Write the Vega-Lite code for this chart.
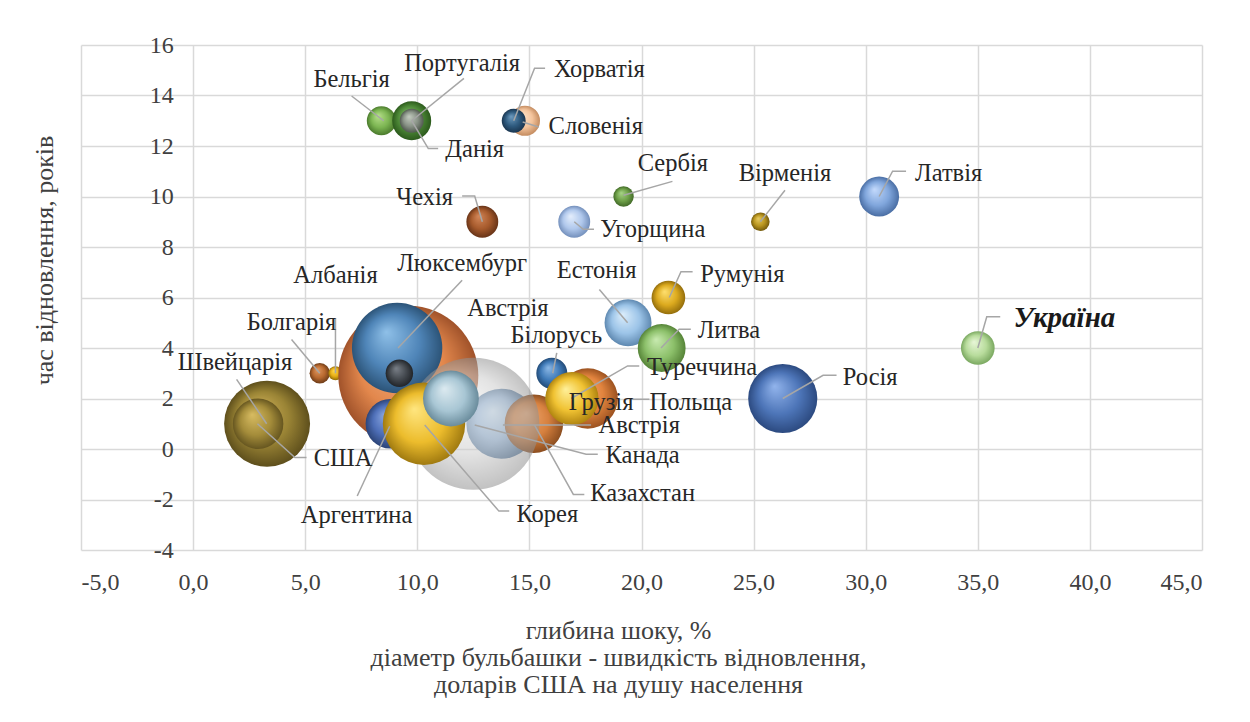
{
  "$schema": "https://vega.github.io/schema/vega-lite/v6.json",
  "width": 1121,
  "height": 505,
  "autosize": {"type": "none"},
  "padding": {"left": 81, "top": 45, "right": 48, "bottom": 172},
  "background": "white",
  "config": {
    "locale": {"number": {"decimal": ",", "thousands": " ", "grouping": [3], "currency": ["", ""], "minus": "-"}},
    "font": "Liberation Serif",
    "view": {"stroke": null},
    "axis": {
      "labelFont": "Liberation Serif", "titleFont": "Liberation Serif",
      "labelFontSize": 24, "titleFontSize": 26, "labelColor": "#404040", "titleColor": "#404040",
      "titleFontWeight": "normal", "gridColor": "#d9d9d9", "gridWidth": 1.5,
      "domain": false, "ticks": false, "tickSize": 0
    }
  },
  "datasets": {
    "bubbles": [
      {"n": 1, "country": "Швейцарія", "x": 3.3, "y": 1, "v": 970},
      {"n": 2, "country": "США", "x": 2.9, "y": 1, "v": 570},
      {"n": 3, "country": "Болгарія", "x": 5.65, "y": 3, "v": 230},
      {"n": 4, "country": "Албанія", "x": 6.35, "y": 3, "v": 160},
      {"n": 5, "country": "Австрія", "x": 9.6, "y": 2.9, "v": 1580},
      {"n": 6, "country": "Люксембург", "x": 9.1, "y": 4, "v": 1020},
      {"n": 7, "country": null, "x": 9.2, "y": 3, "v": 310},
      {"n": 8, "country": "Аргентина", "x": 8.8, "y": 1, "v": 560},
      {"n": 9, "country": "Австрія", "x": 13.75, "y": 1, "v": 790},
      {"n": 10, "country": "Казахстан", "x": 15.2, "y": 1, "v": 660},
      {"n": 11, "country": "Канада", "x": 12.5, "y": 1, "v": 1490},
      {"n": 12, "country": "Корея", "x": 10.3, "y": 1, "v": 930},
      {"n": 13, "country": null, "x": 11.5, "y": 2, "v": 630},
      {"n": 14, "country": "Білорусь", "x": 16.0, "y": 3, "v": 350},
      {"n": 15, "country": "Польща", "x": 17.6, "y": 2, "v": 680},
      {"n": 16, "country": "Грузія", "x": 16.6, "y": 2, "v": 450},
      {"n": 17, "country": "Туреччина", "x": 16.9, "y": 2, "v": 600},
      {"n": 18, "country": "Естонія", "x": 19.4, "y": 5, "v": 530},
      {"n": 19, "country": "Румунія", "x": 21.2, "y": 6, "v": 380},
      {"n": 20, "country": "Литва", "x": 20.9, "y": 4, "v": 540},
      {"n": 21, "country": "Росія", "x": 26.3, "y": 2, "v": 780},
      {"n": 22, "country": "Вірменія", "x": 25.3, "y": 9, "v": 210},
      {"n": 23, "country": "Латвія", "x": 30.6, "y": 10, "v": 450},
      {"n": 24, "country": "Україна", "x": 35.0, "y": 4, "v": 380},
      {"n": 25, "country": "Бельгія", "x": 8.4, "y": 13, "v": 330},
      {"n": 26, "country": "Португалія", "x": 9.75, "y": 13, "v": 440},
      {"n": 27, "country": "Данія", "x": 9.75, "y": 13, "v": 270},
      {"n": 28, "country": "Словенія", "x": 14.8, "y": 13, "v": 340},
      {"n": 29, "country": "Хорватія", "x": 14.3, "y": 13, "v": 270},
      {"n": 30, "country": "Чехія", "x": 12.9, "y": 9, "v": 360},
      {"n": 31, "country": "Угорщина", "x": 17.0, "y": 9, "v": 360},
      {"n": 32, "country": "Сербія", "x": 19.2, "y": 10, "v": 230}
    ],
    "labels": [
      {"text": "Бельгія", "x": 7.07, "y": 14.6},
      {"text": "Португалія", "x": 12.0, "y": 15.26},
      {"text": "Хорватія", "x": 18.12, "y": 15.0},
      {"text": "Словенія", "x": 17.96, "y": 12.75},
      {"text": "Данія", "x": 12.56, "y": 11.83},
      {"text": "Чехія", "x": 10.33, "y": 9.95},
      {"text": "Сербія", "x": 21.4, "y": 11.3},
      {"text": "Вірменія", "x": 26.4, "y": 10.9},
      {"text": "Латвія", "x": 33.7, "y": 10.9},
      {"text": "Угорщина", "x": 20.5, "y": 8.66},
      {"text": "Люксембург", "x": 12.0, "y": 7.34},
      {"text": "Естонія", "x": 18.0, "y": 7.05},
      {"text": "Албанія", "x": 6.35, "y": 6.85},
      {"text": "Румунія", "x": 24.5, "y": 6.9},
      {"text": "Австрія", "x": 14.04, "y": 5.56},
      {"text": "Болгарія", "x": 4.39, "y": 5.0},
      {"text": "Білорусь", "x": 16.2, "y": 4.47},
      {"text": "Литва", "x": 23.9, "y": 4.67},
      {"text": "Україна", "x": 38.86, "y": 5.2},
      {"text": "Швейцарія", "x": 1.87, "y": 3.42},
      {"text": "Туреччина", "x": 22.7, "y": 3.22},
      {"text": "Росія", "x": 30.2, "y": 2.82},
      {"text": "Грузія", "x": 18.2, "y": 1.83},
      {"text": "Польща", "x": 22.2, "y": 1.83},
      {"text": "Австрія", "x": 19.9, "y": 0.91},
      {"text": "Канада", "x": 20.05, "y": -0.28},
      {"text": "США", "x": 6.69, "y": -0.41},
      {"text": "Казахстан", "x": 20.05, "y": -1.8},
      {"text": "Аргентина", "x": 7.29, "y": -2.65},
      {"text": "Корея", "x": 15.8, "y": -2.6}
    ],
    "leaders": [
      {"key": "Бельгія", "k": 1, "x": 8.5, "y": 13}, {"key": "Бельгія", "k": 2, "x": 7.07, "y": 13.98},
      {"key": "Португалія", "k": 1, "x": 9.75, "y": 13}, {"key": "Португалія", "k": 2, "x": 12.08, "y": 14.68},
      {"key": "Данія", "k": 1, "x": 9.75, "y": 13}, {"key": "Данія", "k": 2, "x": 10.49, "y": 11.9}, {"key": "Данія", "k": 3, "x": 10.93, "y": 11.9},
      {"key": "Хорватія", "k": 1, "x": 14.3, "y": 13}, {"key": "Хорватія", "k": 2, "x": 15.23, "y": 15.08}, {"key": "Хорватія", "k": 3, "x": 15.7, "y": 15.08},
      {"key": "Словенія", "k": 1, "x": 14.7, "y": 12.95}, {"key": "Словенія", "k": 2, "x": 15.42, "y": 12.75},
      {"key": "Чехія", "k": 1, "x": 12.9, "y": 9}, {"key": "Чехія", "k": 2, "x": 12.56, "y": 10.02}, {"key": "Чехія", "k": 3, "x": 12.0, "y": 10.02},
      {"key": "Сербія", "k": 1, "x": 19.2, "y": 10.05}, {"key": "Сербія", "k": 2, "x": 21.38, "y": 10.6},
      {"key": "Угорщина", "k": 1, "x": 17.0, "y": 9}, {"key": "Угорщина", "k": 2, "x": 17.4, "y": 8.7}, {"key": "Угорщина", "k": 3, "x": 17.88, "y": 8.7},
      {"key": "Вірменія", "k": 1, "x": 25.3, "y": 9}, {"key": "Вірменія", "k": 2, "x": 26.4, "y": 10.25},
      {"key": "Латвія", "k": 1, "x": 30.6, "y": 10}, {"key": "Латвія", "k": 2, "x": 31.2, "y": 11.0}, {"key": "Латвія", "k": 3, "x": 31.8, "y": 11.0},
      {"key": "Люксембург", "k": 1, "x": 9.14, "y": 4}, {"key": "Люксембург", "k": 2, "x": 12.0, "y": 6.68},
      {"key": "Естонія", "k": 1, "x": 19.38, "y": 5}, {"key": "Естонія", "k": 2, "x": 18.12, "y": 6.32},
      {"key": "Албанія", "k": 1, "x": 6.35, "y": 3}, {"key": "Албанія", "k": 2, "x": 6.35, "y": 5.18},
      {"key": "Румунія", "k": 1, "x": 21.24, "y": 6}, {"key": "Румунія", "k": 2, "x": 21.76, "y": 7.02}, {"key": "Румунія", "k": 3, "x": 22.28, "y": 7.02},
      {"key": "Болгарія", "k": 1, "x": 5.65, "y": 3}, {"key": "Болгарія", "k": 2, "x": 4.39, "y": 4.34},
      {"key": "Білорусь", "k": 1, "x": 16.04, "y": 3}, {"key": "Білорусь", "k": 2, "x": 16.22, "y": 3.81},
      {"key": "Литва", "k": 1, "x": 20.87, "y": 4}, {"key": "Литва", "k": 2, "x": 21.68, "y": 4.74}, {"key": "Литва", "k": 3, "x": 22.2, "y": 4.74},
      {"key": "Україна", "k": 1, "x": 35.0, "y": 4}, {"key": "Україна", "k": 2, "x": 35.4, "y": 5.24}, {"key": "Україна", "k": 3, "x": 36.0, "y": 5.24},
      {"key": "Швейцарія", "k": 1, "x": 3.28, "y": 1}, {"key": "Швейцарія", "k": 2, "x": 1.94, "y": 2.76},
      {"key": "Туреччина", "k": 1, "x": 16.86, "y": 2}, {"key": "Туреччина", "k": 2, "x": 19.38, "y": 3.29}, {"key": "Туреччина", "k": 3, "x": 19.9, "y": 3.29},
      {"key": "Росія", "k": 1, "x": 26.3, "y": 2}, {"key": "Росія", "k": 2, "x": 28.1, "y": 2.92}, {"key": "Росія", "k": 3, "x": 28.7, "y": 2.92},
      {"key": "Польща", "k": 1, "x": 19.55, "y": 1.97}, {"key": "Польща", "k": 2, "x": 20.35, "y": 1.97},
      {"key": "Австрія2", "k": 1, "x": 13.82, "y": 0.95}, {"key": "Австрія2", "k": 2, "x": 17.75, "y": 0.95},
      {"key": "Канада", "k": 1, "x": 12.56, "y": 0.95}, {"key": "Канада", "k": 2, "x": 17.53, "y": -0.21}, {"key": "Канада", "k": 3, "x": 18.05, "y": -0.21},
      {"key": "США", "k": 1, "x": 2.87, "y": 1}, {"key": "США", "k": 2, "x": 4.54, "y": -0.34}, {"key": "США", "k": 3, "x": 5.06, "y": -0.34},
      {"key": "Казахстан", "k": 1, "x": 15.23, "y": 0.95}, {"key": "Казахстан", "k": 2, "x": 16.96, "y": -1.8}, {"key": "Казахстан", "k": 3, "x": 17.45, "y": -1.8},
      {"key": "Аргентина", "k": 1, "x": 8.77, "y": 0.9}, {"key": "Аргентина", "k": 2, "x": 7.32, "y": -1.86},
      {"key": "Корея", "k": 1, "x": 10.33, "y": 0.95}, {"key": "Корея", "k": 2, "x": 13.64, "y": -2.46}, {"key": "Корея", "k": 3, "x": 14.1, "y": -2.46}
    ]
  },
  "encoding": {
    "x": {
      "field": "x", "type": "quantitative",
      "scale": {"domain": [-5, 45], "nice": false, "zero": false},
      "axis": {
        "values": [-5, 0, 5, 10, 15, 20, 25, 30, 35, 40, 45], "format": ".1f",
        "labelPadding": 32, "labelBaseline": "middle",
        "title": ["глибина шоку, %", "діаметр бульбашки - швидкість відновлення,", "доларів США на душу населення"],
        "titleX": 537, "titleY": 80, "titleBaseline": "middle", "titleAlign": "center", "titleLineHeight": 27
      }
    },
    "y": {
      "field": "y", "type": "quantitative",
      "scale": {"domain": [-4, 16], "nice": false, "zero": false},
      "axis": {
        "values": [-4, -2, 0, 2, 4, 6, 8, 10, 12, 14, 16], "format": "d",
        "offset": -112.3, "labelPadding": 20,
        "title": "час відновлення, років",
        "titleX": -149, "titleY": 215, "titleAngle": -90, "titleBaseline": "middle", "titleAlign": "center"
      }
    }
  },
  "layer": [
    {
      "data": {"name": "bubbles"},
      "mark": {"type": "circle", "opacity": 1, "stroke": null},
      "encoding": {
        "size": {"field": "v", "type": "quantitative", "legend": null,
          "scale": {"type": "pow", "exponent": 2, "domain": [0, 1600], "range": [0, 20106]}},
        "opacity": {"condition": {"test": "datum.country === 'Канада'", "value": 0.55}, "value": 1},
        "color": {"field": "n", "type": "ordinal", "legend": null,
          "scale": {"domain": [1,2,3,4,5,6,7,8,9,10,11,12,13,14,15,16,17,18,19,20,21,22,23,24,25,26,27,28,29,30,31,32],
            "range": [
              {"expr": "{gradient:'radial',x1:0.38,y1:0.32,r1:0,x2:0.5,y2:0.5,r2:0.5,stops:[{offset:0,color:'#d2b35a'},{offset:0.6,color:'#9a8435'},{offset:1,color:'#5e4f1c'}]}"},
              {"expr": "{gradient:'radial',x1:0.38,y1:0.32,r1:0,x2:0.5,y2:0.5,r2:0.5,stops:[{offset:0,color:'#d8bc62'},{offset:0.6,color:'#a48c3a'},{offset:1,color:'#665620'}]}"},
              {"expr": "{gradient:'radial',x1:0.38,y1:0.32,r1:0,x2:0.5,y2:0.5,r2:0.5,stops:[{offset:0,color:'#e09a64'},{offset:0.6,color:'#b8692f'},{offset:1,color:'#6e3c18'}]}"},
              {"expr": "{gradient:'radial',x1:0.38,y1:0.32,r1:0,x2:0.5,y2:0.5,r2:0.5,stops:[{offset:0,color:'#ffd84a'},{offset:0.6,color:'#e6ad14'},{offset:1,color:'#8f6a08'}]}"},
              {"expr": "{gradient:'radial',x1:0.38,y1:0.32,r1:0,x2:0.5,y2:0.5,r2:0.5,stops:[{offset:0,color:'#f4b48a'},{offset:0.6,color:'#e2874c'},{offset:1,color:'#a0522a'}]}"},
              {"expr": "{gradient:'radial',x1:0.38,y1:0.32,r1:0,x2:0.5,y2:0.5,r2:0.5,stops:[{offset:0,color:'#8fc0e8'},{offset:0.6,color:'#4f85b8'},{offset:1,color:'#2c5478'}]}"},
              {"expr": "{gradient:'radial',x1:0.38,y1:0.32,r1:0,x2:0.5,y2:0.5,r2:0.5,stops:[{offset:0,color:'#7a8088'},{offset:0.6,color:'#44494f'},{offset:1,color:'#222529'}]}"},
              {"expr": "{gradient:'radial',x1:0.38,y1:0.32,r1:0,x2:0.5,y2:0.5,r2:0.5,stops:[{offset:0,color:'#8aa6e0'},{offset:0.6,color:'#4e6fb8'},{offset:1,color:'#2c4478'}]}"},
              {"expr": "{gradient:'radial',x1:0.38,y1:0.32,r1:0,x2:0.5,y2:0.5,r2:0.5,stops:[{offset:0,color:'#c4dcf0'},{offset:0.6,color:'#8fb2d8'},{offset:1,color:'#5a7ea4'}]}"},
              {"expr": "{gradient:'radial',x1:0.38,y1:0.32,r1:0,x2:0.5,y2:0.5,r2:0.5,stops:[{offset:0,color:'#f0a870'},{offset:0.6,color:'#d6803e'},{offset:1,color:'#8c4e20'}]}"},
              {"expr": "{gradient:'radial',x1:0.38,y1:0.32,r1:0,x2:0.5,y2:0.5,r2:0.5,stops:[{offset:0,color:'#f4f4f4'},{offset:0.6,color:'#cccccc'},{offset:1,color:'#909090'}]}"},
              {"expr": "{gradient:'radial',x1:0.38,y1:0.32,r1:0,x2:0.5,y2:0.5,r2:0.5,stops:[{offset:0,color:'#ffe680'},{offset:0.6,color:'#ecbc2c'},{offset:1,color:'#a07a10'}]}"},
              {"expr": "{gradient:'radial',x1:0.38,y1:0.32,r1:0,x2:0.5,y2:0.5,r2:0.5,stops:[{offset:0,color:'#dceaf0'},{offset:0.6,color:'#a8c6d4'},{offset:1,color:'#6a8c9c'}]}"},
              {"expr": "{gradient:'radial',x1:0.38,y1:0.32,r1:0,x2:0.5,y2:0.5,r2:0.5,stops:[{offset:0,color:'#8cb8e6'},{offset:0.6,color:'#3f7ab8'},{offset:1,color:'#244c78'}]}"},
              {"expr": "{gradient:'radial',x1:0.38,y1:0.32,r1:0,x2:0.5,y2:0.5,r2:0.5,stops:[{offset:0,color:'#f4ac74'},{offset:0.6,color:'#e2843e'},{offset:1,color:'#9c5220'}]}"},
              {"expr": "{gradient:'radial',x1:0.38,y1:0.32,r1:0,x2:0.5,y2:0.5,r2:0.5,stops:[{offset:0,color:'#eef0a0'},{offset:0.6,color:'#cdd06a'},{offset:1,color:'#8c8e3c'}]}"},
              {"expr": "{gradient:'radial',x1:0.38,y1:0.32,r1:0,x2:0.5,y2:0.5,r2:0.5,stops:[{offset:0,color:'#fff09a'},{offset:0.6,color:'#f0c232'},{offset:1,color:'#b08410'}]}"},
              {"expr": "{gradient:'radial',x1:0.38,y1:0.32,r1:0,x2:0.5,y2:0.5,r2:0.5,stops:[{offset:0,color:'#dceefc'},{offset:0.6,color:'#9cc4e8'},{offset:1,color:'#5e88b0'}]}"},
              {"expr": "{gradient:'radial',x1:0.38,y1:0.32,r1:0,x2:0.5,y2:0.5,r2:0.5,stops:[{offset:0,color:'#ffe070'},{offset:0.6,color:'#dcaa1e'},{offset:1,color:'#946e0c'}]}"},
              {"expr": "{gradient:'radial',x1:0.38,y1:0.32,r1:0,x2:0.5,y2:0.5,r2:0.5,stops:[{offset:0,color:'#c8eab0'},{offset:0.6,color:'#8cc06a'},{offset:1,color:'#568438'}]}"},
              {"expr": "{gradient:'radial',x1:0.38,y1:0.32,r1:0,x2:0.5,y2:0.5,r2:0.5,stops:[{offset:0,color:'#92b4ec'},{offset:0.6,color:'#4d75b8'},{offset:1,color:'#2c4a80'}]}"},
              {"expr": "{gradient:'radial',x1:0.38,y1:0.32,r1:0,x2:0.5,y2:0.5,r2:0.5,stops:[{offset:0,color:'#e8cc60'},{offset:0.6,color:'#b8941e'},{offset:1,color:'#735a0c'}]}"},
              {"expr": "{gradient:'radial',x1:0.38,y1:0.32,r1:0,x2:0.5,y2:0.5,r2:0.5,stops:[{offset:0,color:'#c4dafc'},{offset:0.6,color:'#80a6dc'},{offset:1,color:'#4a6ea4'}]}"},
              {"expr": "{gradient:'radial',x1:0.38,y1:0.32,r1:0,x2:0.5,y2:0.5,r2:0.5,stops:[{offset:0,color:'#e8f6d8'},{offset:0.6,color:'#b8dc9c'},{offset:1,color:'#7aa860'}]}"},
              {"expr": "{gradient:'radial',x1:0.38,y1:0.32,r1:0,x2:0.5,y2:0.5,r2:0.5,stops:[{offset:0,color:'#b8e08c'},{offset:0.6,color:'#7cb552'},{offset:1,color:'#4a7a2c'}]}"},
              {"expr": "{gradient:'radial',x1:0.38,y1:0.32,r1:0,x2:0.5,y2:0.5,r2:0.5,stops:[{offset:0,color:'#82b86a'},{offset:0.6,color:'#4e8a38'},{offset:1,color:'#2c5a1c'}]}"},
              {"expr": "{gradient:'radial',x1:0.38,y1:0.32,r1:0,x2:0.5,y2:0.5,r2:0.5,stops:[{offset:0,color:'#c4ccc0'},{offset:0.6,color:'#8a9488'},{offset:1,color:'#525a50'}]}"},
              {"expr": "{gradient:'radial',x1:0.38,y1:0.32,r1:0,x2:0.5,y2:0.5,r2:0.5,stops:[{offset:0,color:'#fde4cc'},{offset:0.6,color:'#f4c49c'},{offset:1,color:'#c48c60'}]}"},
              {"expr": "{gradient:'radial',x1:0.38,y1:0.32,r1:0,x2:0.5,y2:0.5,r2:0.5,stops:[{offset:0,color:'#6e9cc0'},{offset:0.6,color:'#2e5a7e'},{offset:1,color:'#1a3650'}]}"},
              {"expr": "{gradient:'radial',x1:0.38,y1:0.32,r1:0,x2:0.5,y2:0.5,r2:0.5,stops:[{offset:0,color:'#d4885a'},{offset:0.6,color:'#a65a2c'},{offset:1,color:'#683418'}]}"},
              {"expr": "{gradient:'radial',x1:0.38,y1:0.32,r1:0,x2:0.5,y2:0.5,r2:0.5,stops:[{offset:0,color:'#e4eefc'},{offset:0.6,color:'#b0c8ec'},{offset:1,color:'#7490bc'}]}"},
              {"expr": "{gradient:'radial',x1:0.38,y1:0.32,r1:0,x2:0.5,y2:0.5,r2:0.5,stops:[{offset:0,color:'#a8d488'},{offset:0.6,color:'#6ea048'},{offset:1,color:'#426a28'}]}"}
            ]}}
      }
    },
    {
      "data": {"name": "leaders"},
      "mark": {"type": "line", "color": "#a6a6a6", "strokeWidth": 1.5},
      "encoding": {
        "detail": {"field": "key", "type": "nominal"},
        "order": {"field": "k", "type": "quantitative"}
      }
    },
    {
      "data": {"name": "labels"},
      "transform": [{"filter": "datum.text !== 'Україна'"}],
      "mark": {"type": "text", "font": "Liberation Serif", "fontSize": 24.5, "color": "#262626", "align": "center", "baseline": "middle"},
      "encoding": {"text": {"field": "text", "type": "nominal"}}
    },
    {
      "data": {"name": "labels"},
      "transform": [{"filter": "datum.text === 'Україна'"}],
      "mark": {"type": "text", "font": "Liberation Serif", "fontSize": 29, "fontWeight": "bold", "fontStyle": "italic", "color": "#1a1a1a", "align": "center", "baseline": "middle"},
      "encoding": {"text": {"field": "text", "type": "nominal"}}
    }
  ]
}
